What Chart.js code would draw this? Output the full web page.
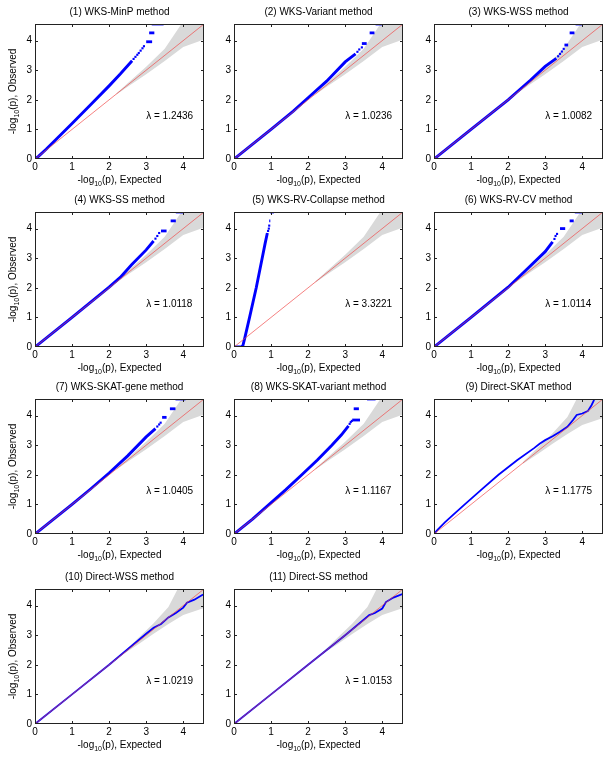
<!DOCTYPE html>
<html>
<head>
<meta charset="utf-8">
<script src="https://cdn.jsdelivr.net/npm/chart.js@4/dist/chart.umd.min.js"></script>
<style>
  body { margin: 0; background: #fff; }
  #wrap { position: relative; width: 612px; height: 761px; background: #fff; }
  .panel { position: absolute; }
</style>
</head>
<body>
<div id="wrap"></div>
<script>
// panel titles and genomic inflation factors
const titles = [
  '(1) WKS-MinP method', '(2) WKS-Variant method', '(3) WKS-WSS method',
  '(4) WKS-SS method', '(5) WKS-RV-Collapse method', '(6) WKS-RV-CV method',
  '(7) WKS-SKAT-gene method', '(8) WKS-SKAT-variant method', '(9) Direct-SKAT method',
  '(10) Direct-WSS method', '(11) Direct-SS method'
];
const lambdas = ['1.2436', '1.0236', '1.0082', '1.0118', '3.3221', '1.0114',
                 '1.0405', '1.1167', '1.1775', '1.0219', '1.0153'];
const axisTicks = [0, 1, 2, 3, 4];
const axisMax = 4.56;

// dense part of each QQ curve: [expected, observed]
const qq1 = [[0,0],[0.1,0.1],[0.3,0.33],[0.6,0.7],[1,1.2],[1.5,1.83],[2,2.47],[2.3,2.87],[2.62,3.32]];
const qq2 = [[0,0],[1,1],[1.6,1.62],[2,2.07],[2.5,2.63],[3,3.28],[3.28,3.55]];
const qq3 = [[0,0],[1,1],[2,2],[2.3,2.33],[2.6,2.66],[3,3.13],[3.3,3.4]];
const qq4 = [[0,0],[1,1],[2,2.02],[2.3,2.35],[2.6,2.77],[3,3.28],[3.2,3.58]];
const qq5 = [[0,0],[0.2,0],[0.24,0.05],[0.29,0.3],[0.42,1.0],[0.6,2.0],[0.76,3.0],[0.84,3.5],[0.9,3.85]];
const qq6 = [[0,0],[1,1],[2,2.02],[2.5,2.62],[3,3.22],[3.2,3.55]];
const qq7 = [[0,0],[1,1],[1.5,1.52],[2,2.06],[2.5,2.64],[3,3.28],[3.25,3.56]];
const qq8 = [[0,0],[0.5,0.5],[0.95,1.0],[1.4,1.5],[1.83,2.0],[2.25,2.5],[2.64,3.0],[2.9,3.35],[3.09,3.65]];
const qq9 = [[0,0],[0.1,0.15],[0.3,0.4],[0.5,0.63],[0.83,1.0],[1.28,1.5],[1.74,2.0],[2.25,2.5],[2.7,2.9],
             [2.85,3.05],[3.0,3.17],[3.2,3.3],[3.4,3.45],[3.6,3.62],[3.75,3.85],[3.85,4.02],[4.0,4.07],
             [4.15,4.15],[4.25,4.35],[4.32,4.53]];
const qq10 = [[0,0],[1,1],[2,2],[3,3.05],[3.2,3.25],[3.4,3.38],[3.6,3.6],[3.8,3.75],[4.0,3.93],
              [4.1,4.1],[4.3,4.2],[4.5,4.35],[4.56,4.38]];
const qq11 = [[0,0],[1,1],[2,2],[3,3],[3.5,3.52],[3.65,3.68],[3.8,3.75],[4.0,3.9],[4.1,4.12],
              [4.3,4.27],[4.56,4.4]];

// sparse points in the upper tail
const tail1 = [[2.66,3.38],[2.71,3.45],[2.76,3.52],[2.8,3.58],[2.85,3.66],[2.9,3.74],[2.94,3.81]];
const tail2 = [[3.33,3.62],[3.38,3.7],[3.45,3.77]];
const tail3 = [[3.35,3.47],[3.4,3.55],[3.45,3.63],[3.5,3.72]];
const tail4 = [[3.25,3.66],[3.3,3.75],[3.35,3.85]];
const tail5 = [[0.92,3.92],[0.94,4.0],[0.95,4.1]];
const tail6 = [[3.25,3.65],[3.28,3.75],[3.32,3.82]];
const tail7 = [[3.3,3.63],[3.35,3.7],[3.39,3.76]];
const tail8 = [[3.12,3.72],[3.15,3.78],[3.18,3.82]];

// tied observed values: [from expected, to expected, observed]
const ties1 = [[3.0,3.16,3.96],[3.08,3.22,4.26],[3.15,3.47,4.56]];
const ties2 = [[3.45,3.58,3.9],[3.66,3.79,4.26],[3.82,4.0,4.56]];
const ties3 = [[3.52,3.62,3.85],[3.66,3.79,4.26],[3.82,4.02,4.56]];
const ties4 = [[3.4,3.55,3.92],[3.66,3.8,4.26],[3.8,4.0,4.56]];
const ties5 = [[0.95,0.98,4.26],[0.97,1.08,4.56]];
const ties6 = [[3.4,3.54,4.0],[3.66,3.77,4.26],[3.8,4.02,4.56]];
const ties7 = [[3.43,3.55,3.94],[3.64,3.79,4.23],[3.79,4.06,4.56]];
const ties8 = [[3.19,3.4,3.85],[3.23,3.37,4.23],[3.59,3.82,4.56]];

// 95% confidence band
const bandUpperA = [[2.2,2.22],[2.5,2.56],[3,3.12],[3.5,3.72],[3.95,4.56],[4.56,4.56]];
const bandLowerA = [[2.2,2.18],[2.5,2.44],[3,2.86],[3.5,3.31],[4,3.78],[4.56,4.04]];
const bandUpperB = [[2.4,2.43],[2.8,2.92],[3.2,3.4],[3.6,3.95],[3.85,4.56],[4.56,4.56]];
const bandLowerB = [[2.4,2.37],[2.8,2.7],[3.2,3.05],[3.6,3.38],[4,3.68],[4.56,3.92]];

const curves = [qq1, qq2, qq3, qq4, qq5, qq6, qq7, qq8, qq9, qq10, qq11];
const tails = [tail1, tail2, tail3, tail4, tail5, tail6, tail7, tail8, [], [], []];
const ties = [ties1, ties2, ties3, ties4, ties5, ties6, ties7, ties8, [], [], []];

const FONT = '"Liberation Sans", Arial, Helvetica, sans-serif';
const colLeft = [0, 199, 399];
const rowTop = [0, 188, 375, 565];

const pts = arr => arr.map(([x, y]) => ({x, y}));

function logLabel(ctx, cx, cy, word) {
  const big = '10px ' + FONT, small = '7px ' + FONT;
  const a = '-log', b = '10', c = '(p), ' + word;
  ctx.font = big;
  const wa = ctx.measureText(a).width, wc = ctx.measureText(c).width;
  ctx.font = small;
  const wb = ctx.measureText(b).width;
  const sx = cx - (wa + wb + wc) / 2;
  ctx.textAlign = 'left';
  ctx.textBaseline = 'alphabetic';
  ctx.font = big; ctx.fillText(a, sx, cy + 3.5);
  ctx.font = small; ctx.fillText(b, sx + wa, cy + 6.5);
  ctx.font = big; ctx.fillText(c, sx + wa + wb, cy + 3.5);
}

// box, inward ticks, title, axis labels and lambda
const decor = {
  id: 'decor',
  afterDraw(chart, args, o) {
    const {ctx, chartArea: a, scales: {x, y}} = chart;
    ctx.save();
    ctx.strokeStyle = '#222';
    ctx.lineWidth = 1;
    ctx.strokeRect(a.left + 0.5, a.top + 0.5, a.width - 1, a.height - 1);
    ctx.beginPath();
    for (const v of axisTicks.slice(1)) {
      const px = Math.round(x.getPixelForValue(v)) + 0.5;
      ctx.moveTo(px, a.bottom); ctx.lineTo(px, a.bottom - 3);
      ctx.moveTo(px, a.top); ctx.lineTo(px, a.top + 3);
      const py = Math.round(y.getPixelForValue(v)) + 0.5;
      ctx.moveTo(a.left, py); ctx.lineTo(a.left + 3, py);
      ctx.moveTo(a.right, py); ctx.lineTo(a.right - 3, py);
    }
    ctx.stroke();

    ctx.fillStyle = '#000';
    ctx.font = '10px ' + FONT;
    ctx.textAlign = 'center';
    ctx.textBaseline = 'middle';
    ctx.fillText(o.title, (a.left + a.right) / 2, 12);

    ctx.textAlign = 'left';
    ctx.fillText('\u03bb = ' + o.lambda, x.getPixelForValue(3.0), y.getPixelForValue(1.45));

    logLabel(ctx, (a.left + a.right) / 2, 179, 'Expected');
    if (o.ylabel) {
      ctx.save();
      ctx.translate(12, (a.top + a.bottom) / 2);
      ctx.rotate(-Math.PI / 2);
      logLabel(ctx, 0, 0, 'Observed');
      ctx.restore();
    }
    ctx.restore();
  }
};

const wrap = document.getElementById('wrap');

titles.forEach((title, i) => {
  const col = i % 3, row = Math.floor(i / 3);
  const div = document.createElement('div');
  div.className = 'panel';
  div.style.left = colLeft[col] + 'px';
  div.style.top = rowTop[row] + 'px';
  const canvas = document.createElement('canvas');
  canvas.width = 212;
  canvas.height = 190;
  div.appendChild(canvas);
  wrap.appendChild(div);

  const direct = i >= 8;
  const up = direct ? bandUpperB : bandUpperA;
  const lo = direct ? bandLowerB : bandLowerA;
  const blue = '#0000ff';

  const datasets = [
    {
      data: pts(up.concat(lo.slice().reverse())),
      showLine: true, fill: 'shape', backgroundColor: '#d9d9d9',
      borderWidth: 0, pointRadius: 0, order: 5
    },
    {
      data: pts(curves[i]),
      showLine: true, borderColor: blue, borderWidth: direct ? 1.8 : 2.9,
      pointRadius: 0, order: 3
    },
    {
      data: pts(tails[i]),
      showLine: false, pointStyle: 'rect', pointRadius: 1.5,
      backgroundColor: blue, borderWidth: 0, order: 3
    },
    {
      data: [{x: 0, y: 0}, {x: axisMax, y: axisMax}],
      showLine: true, borderColor: 'rgba(240,70,70,0.85)', borderWidth: 0.8,
      pointRadius: 0, order: 1
    }
  ];
  for (const [x1, x2, v] of ties[i]) {
    datasets.push({
      data: [{x: x1, y: v}, {x: x2, y: v}],
      showLine: true, borderColor: blue, borderWidth: 2.8,
      pointRadius: 0, order: 2
    });
  }

  const axis = (fit) => ({
    type: 'linear', min: 0, max: axisMax,
    grid: {display: false, drawTicks: false},
    border: {display: false},
    ticks: {
      stepSize: 1, includeBounds: false, color: '#000',
      font: {family: FONT, size: 10}, padding: fit === 'x' ? 2 : 3,
      autoSkip: false, maxRotation: 0
    },
    afterFit: s => { if (fit === 'x') s.height = 31; else s.width = 35; }
  });

  new Chart(canvas, {
    type: 'scatter',
    data: {datasets},
    options: {
      responsive: false,
      animation: false,
      layout: {padding: {top: 24, right: 8, left: 0, bottom: 0}},
      scales: {x: axis('x'), y: axis('y')},
      plugins: {
        legend: {display: false},
        tooltip: {enabled: false},
        decor: {title, lambda: lambdas[i], ylabel: col === 0}
      }
    },
    plugins: [decor]
  });
});
</script>
</body>
</html>
